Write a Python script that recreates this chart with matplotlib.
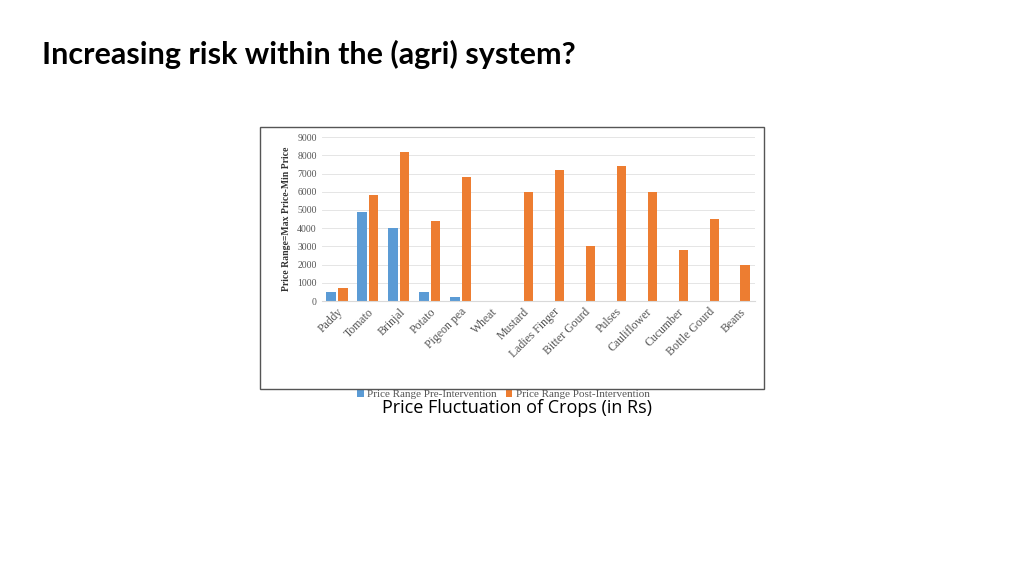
import matplotlib.pyplot as plt
import numpy as np
from matplotlib.patches import Rectangle

crops = ["Paddy", "Tomato", "Brinjal", "Potato", "Pigeon pea", "Wheat", "Mustard",
         "Ladies Finger", "Bitter Gourd", "Pulses", "Cauliflower", "Cucumber",
         "Bottle Gourd", "Beans"]
pre = [500, 4900, 4000, 500, 200, 0, 0, 0, 0, 0, 0, 0, 0, 0]
post = [700, 5800, 8200, 4400, 6800, 0, 6000, 7200, 3000, 7400, 6000, 2800, 4500, 2000]

fig = plt.figure(figsize=(10.24, 5.75), dpi=100)
fig.text(0.041, 0.905, "Increasing risk within the (agri) system?", fontsize=22,
         fontweight="bold", family="Lato", va="center")
fig.text(0.505, 0.29, "Price Fluctuation of Crops (in Rs)", fontsize=13,
         family="Open Sans", ha="center", va="center")

# chart border
fig.patches.append(Rectangle((260 / 1024, 1 - 389 / 575), 504 / 1024, 262 / 575,
                             transform=fig.transFigure, fill=False,
                             edgecolor="#555555", linewidth=1))

ax = fig.add_axes([0.314, 0.4765, 0.423, 0.285])
x = np.arange(len(crops))
w = 0.3
ax.bar(x - 0.19, pre, w, color="#5b9bd5", label="Price Range Pre-Intervention")
ax.bar(x + 0.19, post, w, color="#ed7d31", label="Price Range Post-Intervention")
ax.set_ylim(0, 9000)
ax.set_xlim(-0.5, len(crops) - 0.5)
ax.set_yticks(range(0, 9001, 1000))
ax.set_xticks(x)
ax.set_xticklabels(crops, rotation=45, ha="right", rotation_mode="anchor")
for lab in ax.get_xticklabels() + ax.get_yticklabels():
    lab.set_family("Liberation Serif")
    lab.set_color("#555555")
ax.tick_params(axis="x", labelsize=8.5, length=0)
ax.tick_params(axis="y", labelsize=7, length=0)
ax.grid(axis="y", color="#e5e5e5", linewidth=0.7)
ax.set_axisbelow(True)
for s in ["top", "right", "left"]:
    ax.spines[s].set_visible(False)
ax.spines["bottom"].set_color("#d9d9d9")
ax.set_ylabel("Price Range=Max Price-Min Price", family="Liberation Serif",
              fontsize=7, fontweight="bold", color="#333333")
ax.legend(loc="center", bbox_to_anchor=(0.42, -0.57), ncol=2, frameon=False,
          prop={"family": "Liberation Serif", "size": 8}, handlelength=0.6,
          handleheight=0.6, columnspacing=0.8, handletextpad=0.3,
          labelcolor="#555555")

fig.savefig("out.png", dpi=100)
